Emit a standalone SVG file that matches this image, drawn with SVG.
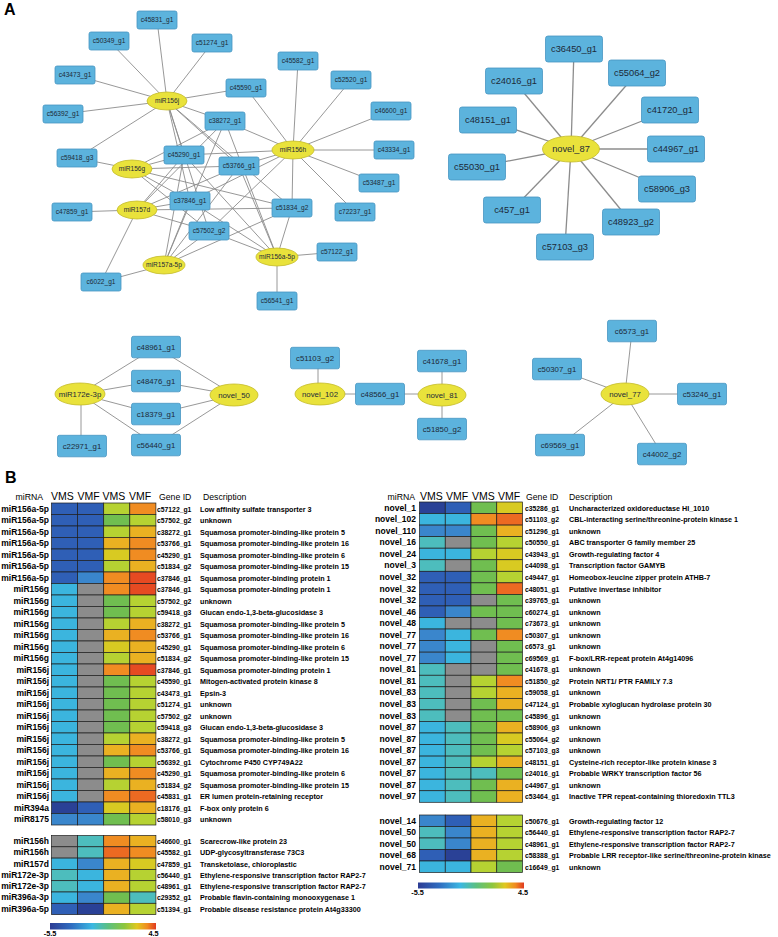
<svg xmlns="http://www.w3.org/2000/svg" width="778" height="937" viewBox="0 0 778 937">
<style>
.bx{fill:#5cb3dd;stroke:#4896c2;stroke-width:0.8}
.mr{fill:#e9e23b;stroke:#c4bb2a;stroke-width:0.8}
.e{stroke:#8c8c8c;stroke-width:0.9}
.e2{stroke:#8c8c8c;stroke-width:1.3}
text{font-family:"Liberation Sans",Arial,sans-serif}
.ts{font-size:6.6px;text-anchor:middle;fill:#1c2a38}
.tl{font-size:9.3px;text-anchor:middle;fill:#1c2a38}
.tm{font-size:7.8px;text-anchor:middle;fill:#1c2a38}
.lab{font-size:16px;font-weight:bold;fill:#000}
.hd{font-size:8.7px;fill:#000}
.hv{font-size:10.5px;fill:#000;text-anchor:middle}
.ml{font-size:8.5px;font-weight:bold;text-anchor:end;fill:#000}
.gi{font-size:6.8px;font-weight:bold;fill:#000}
.ds{font-size:7.2px;font-weight:bold;fill:#000}
.cb{font-size:7.3px;font-weight:bold;fill:#000;text-anchor:middle}
.hm rect{stroke:#1e1e1e;stroke-width:0.7}
.DB{fill:#2a4196}.B{fill:#2f5fb6}.MB{fill:#3a86cc}.LB{fill:#3bb5de}.T{fill:#4dbdbd}
.G{fill:#70be50}.YG{fill:#b6d232}.Y{fill:#d8ca22}.YO{fill:#eab122}.O{fill:#f08c22}
.OR{fill:#ec6a22}.R{fill:#e64a22}.NA{fill:#8c8c8c}
</style>
<defs>
<linearGradient id="cs" x1="0" y1="0" x2="1" y2="0">
<stop offset="0" stop-color="#2c3c94"/><stop offset="0.2" stop-color="#2f6cc0"/><stop offset="0.4" stop-color="#3bb8e2"/><stop offset="0.55" stop-color="#5cc080"/><stop offset="0.7" stop-color="#8cc63e"/><stop offset="0.82" stop-color="#e0c820"/><stop offset="0.92" stop-color="#f08a20"/><stop offset="1" stop-color="#e03a20"/>
</linearGradient>
</defs>
<rect width="778" height="937" fill="#fff"/>
<text class="lab" x="4" y="15">A</text>
<text class="lab" x="5" y="483">B</text>

<g id="connectors">
<line class="e" x1="167" y1="101" x2="157" y2="20"/>
<line class="e" x1="167" y1="101" x2="109" y2="41"/>
<line class="e" x1="167" y1="101" x2="212" y2="43"/>
<line class="e" x1="167" y1="101" x2="75" y2="75"/>
<line class="e" x1="167" y1="101" x2="63" y2="114"/>
<line class="e" x1="167" y1="101" x2="246" y2="88"/>
<line class="e" x1="167" y1="101" x2="77" y2="158"/>
<line class="e" x1="167" y1="101" x2="225" y2="121"/>
<line class="e" x1="167" y1="101" x2="184" y2="155"/>
<line class="e" x1="167" y1="101" x2="239" y2="166"/>
<line class="e" x1="167" y1="101" x2="190" y2="201"/>
<line class="e" x1="167" y1="101" x2="292" y2="208"/>
<line class="e" x1="167" y1="101" x2="209" y2="231"/>
<line class="e" x1="293" y1="150" x2="298" y2="61"/>
<line class="e" x1="293" y1="150" x2="351" y2="80"/>
<line class="e" x1="293" y1="150" x2="391" y2="111"/>
<line class="e" x1="293" y1="150" x2="394" y2="150"/>
<line class="e" x1="293" y1="150" x2="379" y2="183"/>
<line class="e" x1="293" y1="150" x2="355" y2="212"/>
<line class="e" x1="293" y1="150" x2="246" y2="88"/>
<line class="e" x1="293" y1="150" x2="225" y2="121"/>
<line class="e" x1="293" y1="150" x2="184" y2="155"/>
<line class="e" x1="293" y1="150" x2="239" y2="166"/>
<line class="e" x1="293" y1="150" x2="190" y2="201"/>
<line class="e" x1="293" y1="150" x2="292" y2="208"/>
<line class="e" x1="293" y1="150" x2="209" y2="231"/>
<line class="e" x1="132" y1="169" x2="77" y2="158"/>
<line class="e" x1="132" y1="169" x2="225" y2="121"/>
<line class="e" x1="132" y1="169" x2="184" y2="155"/>
<line class="e" x1="132" y1="169" x2="239" y2="166"/>
<line class="e" x1="132" y1="169" x2="190" y2="201"/>
<line class="e" x1="132" y1="169" x2="292" y2="208"/>
<line class="e" x1="132" y1="169" x2="209" y2="231"/>
<line class="e" x1="137" y1="210" x2="72" y2="212"/>
<line class="e" x1="137" y1="210" x2="101" y2="282"/>
<line class="e" x1="137" y1="210" x2="225" y2="121"/>
<line class="e" x1="137" y1="210" x2="184" y2="155"/>
<line class="e" x1="137" y1="210" x2="239" y2="166"/>
<line class="e" x1="137" y1="210" x2="190" y2="201"/>
<line class="e" x1="137" y1="210" x2="292" y2="208"/>
<line class="e" x1="137" y1="210" x2="209" y2="231"/>
<line class="e" x1="164" y1="265" x2="101" y2="282"/>
<line class="e" x1="164" y1="265" x2="225" y2="121"/>
<line class="e" x1="164" y1="265" x2="184" y2="155"/>
<line class="e" x1="164" y1="265" x2="239" y2="166"/>
<line class="e" x1="164" y1="265" x2="190" y2="201"/>
<line class="e" x1="164" y1="265" x2="292" y2="208"/>
<line class="e" x1="164" y1="265" x2="209" y2="231"/>
<line class="e" x1="277" y1="257" x2="337" y2="252"/>
<line class="e" x1="277" y1="257" x2="277" y2="301"/>
<line class="e" x1="277" y1="257" x2="225" y2="121"/>
<line class="e" x1="277" y1="257" x2="184" y2="155"/>
<line class="e" x1="277" y1="257" x2="239" y2="166"/>
<line class="e" x1="277" y1="257" x2="190" y2="201"/>
<line class="e" x1="277" y1="257" x2="292" y2="208"/>
<line class="e" x1="277" y1="257" x2="209" y2="231"/>
<line class="e2" x1="571" y1="149" x2="574" y2="49"/>
<line class="e2" x1="571" y1="149" x2="514" y2="81"/>
<line class="e2" x1="571" y1="149" x2="637" y2="73"/>
<line class="e2" x1="571" y1="149" x2="488" y2="120"/>
<line class="e2" x1="571" y1="149" x2="670" y2="110"/>
<line class="e2" x1="571" y1="149" x2="676" y2="149"/>
<line class="e2" x1="571" y1="149" x2="477" y2="167"/>
<line class="e2" x1="571" y1="149" x2="667" y2="189"/>
<line class="e2" x1="571" y1="149" x2="512" y2="210"/>
<line class="e2" x1="571" y1="149" x2="631" y2="222"/>
<line class="e2" x1="571" y1="149" x2="565" y2="247"/>
<line class="e" x1="80" y1="394" x2="156" y2="347"/>
<line class="e" x1="80" y1="394" x2="156" y2="381"/>
<line class="e" x1="80" y1="394" x2="156" y2="414"/>
<line class="e" x1="80" y1="394" x2="156" y2="445"/>
<line class="e" x1="81" y1="394" x2="81" y2="446"/>
<line class="e" x1="234" y1="395" x2="156" y2="347"/>
<line class="e" x1="234" y1="395" x2="156" y2="381"/>
<line class="e" x1="234" y1="395" x2="156" y2="414"/>
<line class="e" x1="234" y1="395" x2="156" y2="445"/>
<line class="e" x1="318" y1="394" x2="318" y2="358"/>
<line class="e" x1="320" y1="394" x2="442" y2="394"/>
<line class="e" x1="442" y1="395" x2="442" y2="361"/>
<line class="e" x1="442" y1="395" x2="442" y2="429"/>
<line class="e" x1="625" y1="394" x2="632" y2="331"/>
<line class="e" x1="625" y1="394" x2="557" y2="369"/>
<line class="e" x1="625" y1="394" x2="702" y2="394"/>
<line class="e" x1="625" y1="394" x2="560" y2="445"/>
<line class="e" x1="625" y1="394" x2="662" y2="454"/>
</g>

<g id="n_c45831_g1"><rect class="bx" x="137" y="11" width="40" height="18" rx="2"/><text class="ts" x="157" y="22.3">c45831_g1</text></g>
<g id="n_c50349_g1"><rect class="bx" x="89" y="32" width="40" height="18" rx="2"/><text class="ts" x="109" y="43.3">c50349_g1</text></g>
<g id="n_c51274_g1"><rect class="bx" x="192" y="34" width="40" height="18" rx="2"/><text class="ts" x="212" y="45.3">c51274_g1</text></g>
<g id="n_c43473_g1"><rect class="bx" x="55" y="66" width="40" height="18" rx="2"/><text class="ts" x="75" y="77.3">c43473_g1</text></g>
<g id="n_c45582_g1"><rect class="bx" x="278" y="52" width="40" height="18" rx="2"/><text class="ts" x="298" y="63.3">c45582_g1</text></g>
<g id="n_c52520_g1"><rect class="bx" x="331" y="71" width="40" height="18" rx="2"/><text class="ts" x="351" y="82.3">c52520_g1</text></g>
<g id="n_c45590_g1"><rect class="bx" x="226" y="79" width="40" height="18" rx="2"/><text class="ts" x="246" y="90.3">c45590_g1</text></g>
<g id="n_c56392_g1"><rect class="bx" x="43" y="105" width="40" height="18" rx="2"/><text class="ts" x="63" y="116.3">c56392_g1</text></g>
<g id="n_c38272_g1"><rect class="bx" x="205" y="112" width="40" height="18" rx="2"/><text class="ts" x="225" y="123.3">c38272_g1</text></g>
<g id="n_c46600_g1"><rect class="bx" x="371" y="102" width="40" height="18" rx="2"/><text class="ts" x="391" y="113.3">c46600_g1</text></g>
<g id="n_c43334_g1"><rect class="bx" x="374" y="141" width="40" height="18" rx="2"/><text class="ts" x="394" y="152.3">c43334_g1</text></g>
<g id="n_c53487_g1"><rect class="bx" x="359" y="174" width="40" height="18" rx="2"/><text class="ts" x="379" y="185.3">c53487_g1</text></g>
<g id="n_c72237_g1"><rect class="bx" x="335" y="203" width="40" height="18" rx="2"/><text class="ts" x="355" y="214.3">c72237_g1</text></g>
<g id="n_c59418_g3"><rect class="bx" x="57" y="149" width="40" height="18" rx="2"/><text class="ts" x="77" y="160.3">c59418_g3</text></g>
<g id="n_c45290_g1"><rect class="bx" x="164" y="146" width="40" height="18" rx="2"/><text class="ts" x="184" y="157.3">c45290_g1</text></g>
<g id="n_c53766_g1"><rect class="bx" x="219" y="157" width="40" height="18" rx="2"/><text class="ts" x="239" y="168.3">c53766_g1</text></g>
<g id="n_c37846_g1"><rect class="bx" x="170" y="192" width="40" height="18" rx="2"/><text class="ts" x="190" y="203.3">c37846_g1</text></g>
<g id="n_c47859_g1"><rect class="bx" x="52" y="203" width="40" height="18" rx="2"/><text class="ts" x="72" y="214.3">c47859_g1</text></g>
<g id="n_c51834_g2"><rect class="bx" x="272" y="199" width="40" height="18" rx="2"/><text class="ts" x="292" y="210.3">c51834_g2</text></g>
<g id="n_c57502_g2"><rect class="bx" x="189" y="222" width="40" height="18" rx="2"/><text class="ts" x="209" y="233.3">c57502_g2</text></g>
<g id="n_c57122_g1"><rect class="bx" x="317" y="243" width="40" height="18" rx="2"/><text class="ts" x="337" y="254.3">c57122_g1</text></g>
<g id="n_c6022_g1"><rect class="bx" x="81" y="273" width="40" height="18" rx="2"/><text class="ts" x="101" y="284.3">c6022_g1</text></g>
<g id="n_c56541_g1"><rect class="bx" x="257" y="292" width="40" height="18" rx="2"/><text class="ts" x="277" y="303.3">c56541_g1</text></g>
<g id="n_miR156j"><ellipse class="mr" cx="167" cy="101" rx="20" ry="9"/><text class="ts" x="167" y="103.3">miR156j</text></g>
<g id="n_miR156h"><ellipse class="mr" cx="293" cy="150" rx="21" ry="9"/><text class="ts" x="293" y="152.3">miR156h</text></g>
<g id="n_miR156g"><ellipse class="mr" cx="132" cy="169" rx="20" ry="9"/><text class="ts" x="132" y="171.3">miR156g</text></g>
<g id="n_miR157d"><ellipse class="mr" cx="137" cy="210" rx="20" ry="9"/><text class="ts" x="137" y="212.3">miR157d</text></g>
<g id="n_miR157a-5p"><ellipse class="mr" cx="164" cy="265" rx="21" ry="9"/><text class="ts" x="164" y="267.3">miR157a-5p</text></g>
<g id="n_miR156a-5p"><ellipse class="mr" cx="277" cy="257" rx="21" ry="9"/><text class="ts" x="277" y="259.3">miR156a-5p</text></g>

<g id="n_c36450_g1"><rect class="bx" x="545.5" y="36" width="57" height="26" rx="2.5"/><text class="tl" x="574" y="52.2">c36450_g1</text></g>
<g id="n_c24016_g1"><rect class="bx" x="485.5" y="68" width="57" height="26" rx="2.5"/><text class="tl" x="514" y="84.2">c24016_g1</text></g>
<g id="n_c55064_g2"><rect class="bx" x="608.5" y="60" width="57" height="26" rx="2.5"/><text class="tl" x="637" y="76.2">c55064_g2</text></g>
<g id="n_c48151_g1"><rect class="bx" x="459.5" y="107" width="57" height="26" rx="2.5"/><text class="tl" x="488" y="123.2">c48151_g1</text></g>
<g id="n_c41720_g1"><rect class="bx" x="641.5" y="97" width="57" height="26" rx="2.5"/><text class="tl" x="670" y="113.2">c41720_g1</text></g>
<g id="n_c44967_g1"><rect class="bx" x="647.5" y="136" width="57" height="26" rx="2.5"/><text class="tl" x="676" y="152.2">c44967_g1</text></g>
<g id="n_c55030_g1"><rect class="bx" x="448.5" y="154" width="57" height="26" rx="2.5"/><text class="tl" x="477" y="170.2">c55030_g1</text></g>
<g id="n_c58906_g3"><rect class="bx" x="638.5" y="176" width="57" height="26" rx="2.5"/><text class="tl" x="667" y="192.2">c58906_g3</text></g>
<g id="n_c457_g1"><rect class="bx" x="483.5" y="197" width="57" height="26" rx="2.5"/><text class="tl" x="512" y="213.2">c457_g1</text></g>
<g id="n_c48923_g2"><rect class="bx" x="602.5" y="209" width="57" height="26" rx="2.5"/><text class="tl" x="631" y="225.2">c48923_g2</text></g>
<g id="n_c57103_g3"><rect class="bx" x="536.5" y="234" width="57" height="26" rx="2.5"/><text class="tl" x="565" y="250.2">c57103_g3</text></g>
<g id="n_novel_87"><ellipse class="mr" cx="571" cy="149" rx="28.5" ry="13"/><text class="tl" x="571" y="152.2">novel_87</text></g>

<g id="n_c48961_g1"><rect class="bx" x="131.5" y="336.3" width="49" height="21.5" rx="2"/><text class="tm" x="156" y="349.7">c48961_g1</text></g>
<g id="n_c48476_g1"><rect class="bx" x="131.5" y="370.3" width="49" height="21.5" rx="2"/><text class="tm" x="156" y="383.7">c48476_g1</text></g>
<g id="n_c18379_g1"><rect class="bx" x="131.5" y="403.3" width="49" height="21.5" rx="2"/><text class="tm" x="156" y="416.7">c18379_g1</text></g>
<g id="n_c56440_g1"><rect class="bx" x="131.5" y="434.3" width="49" height="21.5" rx="2"/><text class="tm" x="156" y="447.7">c56440_g1</text></g>
<g id="n_c22971_g1"><rect class="bx" x="57.5" y="435.3" width="49" height="21.5" rx="2"/><text class="tm" x="82" y="448.7">c22971_g1</text></g>
<g id="n_miR172e-3p"><ellipse class="mr" cx="80" cy="394" rx="25" ry="11"/><text class="tm" x="80" y="396.7">miR172e-3p</text></g>
<g id="n_novel_50"><ellipse class="mr" cx="234" cy="395" rx="24" ry="11"/><text class="tm" x="234" y="397.7">novel_50</text></g>
<g id="n_c51103_g2"><rect class="bx" x="290.5" y="347.3" width="49" height="21.5" rx="2"/><text class="tm" x="315" y="360.7">c51103_g2</text></g>
<g id="n_novel_102"><ellipse class="mr" cx="320" cy="394" rx="25" ry="11"/><text class="tm" x="320" y="396.7">novel_102</text></g>
<g id="n_c48566_g1"><rect class="bx" x="355.5" y="383.3" width="49" height="21.5" rx="2"/><text class="tm" x="380" y="396.7">c48566_g1</text></g>
<g id="n_novel_81"><ellipse class="mr" cx="442" cy="395" rx="24" ry="11"/><text class="tm" x="442" y="397.7">novel_81</text></g>
<g id="n_c41678_g1"><rect class="bx" x="417.5" y="350.3" width="49" height="21.5" rx="2"/><text class="tm" x="442" y="363.7">c41678_g1</text></g>
<g id="n_c51850_g2"><rect class="bx" x="417.5" y="418.3" width="49" height="21.5" rx="2"/><text class="tm" x="442" y="431.7">c51850_g2</text></g>
<g id="n_c6573_g1"><rect class="bx" x="607.5" y="320.3" width="49" height="21.5" rx="2"/><text class="tm" x="632" y="333.7">c6573_g1</text></g>
<g id="n_c50307_g1"><rect class="bx" x="532.5" y="358.3" width="49" height="21.5" rx="2"/><text class="tm" x="557" y="371.7">c50307_g1</text></g>
<g id="n_c53246_g1"><rect class="bx" x="677.5" y="383.3" width="49" height="21.5" rx="2"/><text class="tm" x="702" y="396.7">c53246_g1</text></g>
<g id="n_c69569_g1"><rect class="bx" x="535.5" y="434.3" width="49" height="21.5" rx="2"/><text class="tm" x="560" y="447.7">c69569_g1</text></g>
<g id="n_c44002_g2"><rect class="bx" x="637.5" y="443.3" width="49" height="21.5" rx="2"/><text class="tm" x="662" y="456.7">c44002_g2</text></g>
<g id="n_novel_77"><ellipse class="mr" cx="625" cy="394" rx="24" ry="11"/><text class="tm" x="625" y="396.7">novel_77</text></g>

<g id="heatmap-left">
<text class="hd" x="43" y="500" text-anchor="end">miRNA</text>
<text class="hv" x="62.5" y="500">VMS</text><text class="hv" x="88.5" y="500">VMF</text><text class="hv" x="114" y="500">VMS</text><text class="hv" x="140" y="500">VMF</text>
<text class="hd" x="159" y="500">Gene ID</text><text class="hd" x="203" y="500">Description</text>
<g class="hm">
<g transform="translate(0,503)"><rect class="B" x="51.5" width="26.1" height="11.5"/><rect class="B" x="77.6" width="26.1" height="11.5"/><rect class="YG" x="103.7" width="26.1" height="11.5"/><rect class="O" x="129.8" width="26.1" height="11.5"/></g>
<g transform="translate(0,514.5)"><rect class="B" x="51.5" width="26.1" height="11.5"/><rect class="B" x="77.6" width="26.1" height="11.5"/><rect class="G" x="103.7" width="26.1" height="11.5"/><rect class="YG" x="129.8" width="26.1" height="11.5"/></g>
<g transform="translate(0,526)"><rect class="B" x="51.5" width="26.1" height="11.5"/><rect class="B" x="77.6" width="26.1" height="11.5"/><rect class="YG" x="103.7" width="26.1" height="11.5"/><rect class="YO" x="129.8" width="26.1" height="11.5"/></g>
<g transform="translate(0,537.5)"><rect class="B" x="51.5" width="26.1" height="11.5"/><rect class="B" x="77.6" width="26.1" height="11.5"/><rect class="YO" x="103.7" width="26.1" height="11.5"/><rect class="O" x="129.8" width="26.1" height="11.5"/></g>
<g transform="translate(0,549)"><rect class="B" x="51.5" width="26.1" height="11.5"/><rect class="B" x="77.6" width="26.1" height="11.5"/><rect class="Y" x="103.7" width="26.1" height="11.5"/><rect class="O" x="129.8" width="26.1" height="11.5"/></g>
<g transform="translate(0,560.5)"><rect class="B" x="51.5" width="26.1" height="11.5"/><rect class="B" x="77.6" width="26.1" height="11.5"/><rect class="YG" x="103.7" width="26.1" height="11.5"/><rect class="YO" x="129.8" width="26.1" height="11.5"/></g>
<g transform="translate(0,572)"><rect class="B" x="51.5" width="26.1" height="11.5"/><rect class="MB" x="77.6" width="26.1" height="11.5"/><rect class="O" x="103.7" width="26.1" height="11.5"/><rect class="R" x="129.8" width="26.1" height="11.5"/></g>
<g transform="translate(0,583.5)"><rect class="LB" x="51.5" width="26.1" height="11.5"/><rect class="NA" x="77.6" width="26.1" height="11.5"/><rect class="O" x="103.7" width="26.1" height="11.5"/><rect class="R" x="129.8" width="26.1" height="11.5"/></g>
<g transform="translate(0,595)"><rect class="LB" x="51.5" width="26.1" height="11.5"/><rect class="NA" x="77.6" width="26.1" height="11.5"/><rect class="G" x="103.7" width="26.1" height="11.5"/><rect class="YG" x="129.8" width="26.1" height="11.5"/></g>
<g transform="translate(0,606.5)"><rect class="LB" x="51.5" width="26.1" height="11.5"/><rect class="NA" x="77.6" width="26.1" height="11.5"/><rect class="G" x="103.7" width="26.1" height="11.5"/><rect class="YG" x="129.8" width="26.1" height="11.5"/></g>
<g transform="translate(0,618)"><rect class="LB" x="51.5" width="26.1" height="11.5"/><rect class="NA" x="77.6" width="26.1" height="11.5"/><rect class="YG" x="103.7" width="26.1" height="11.5"/><rect class="YO" x="129.8" width="26.1" height="11.5"/></g>
<g transform="translate(0,629.5)"><rect class="LB" x="51.5" width="26.1" height="11.5"/><rect class="NA" x="77.6" width="26.1" height="11.5"/><rect class="YO" x="103.7" width="26.1" height="11.5"/><rect class="O" x="129.8" width="26.1" height="11.5"/></g>
<g transform="translate(0,641)"><rect class="LB" x="51.5" width="26.1" height="11.5"/><rect class="NA" x="77.6" width="26.1" height="11.5"/><rect class="Y" x="103.7" width="26.1" height="11.5"/><rect class="YO" x="129.8" width="26.1" height="11.5"/></g>
<g transform="translate(0,652.5)"><rect class="LB" x="51.5" width="26.1" height="11.5"/><rect class="NA" x="77.6" width="26.1" height="11.5"/><rect class="YG" x="103.7" width="26.1" height="11.5"/><rect class="YO" x="129.8" width="26.1" height="11.5"/></g>
<g transform="translate(0,664)"><rect class="LB" x="51.5" width="26.1" height="11.5"/><rect class="NA" x="77.6" width="26.1" height="11.5"/><rect class="O" x="103.7" width="26.1" height="11.5"/><rect class="R" x="129.8" width="26.1" height="11.5"/></g>
<g transform="translate(0,675.5)"><rect class="LB" x="51.5" width="26.1" height="11.5"/><rect class="NA" x="77.6" width="26.1" height="11.5"/><rect class="G" x="103.7" width="26.1" height="11.5"/><rect class="YG" x="129.8" width="26.1" height="11.5"/></g>
<g transform="translate(0,687)"><rect class="LB" x="51.5" width="26.1" height="11.5"/><rect class="NA" x="77.6" width="26.1" height="11.5"/><rect class="G" x="103.7" width="26.1" height="11.5"/><rect class="YG" x="129.8" width="26.1" height="11.5"/></g>
<g transform="translate(0,698.5)"><rect class="LB" x="51.5" width="26.1" height="11.5"/><rect class="NA" x="77.6" width="26.1" height="11.5"/><rect class="G" x="103.7" width="26.1" height="11.5"/><rect class="YG" x="129.8" width="26.1" height="11.5"/></g>
<g transform="translate(0,710)"><rect class="LB" x="51.5" width="26.1" height="11.5"/><rect class="NA" x="77.6" width="26.1" height="11.5"/><rect class="G" x="103.7" width="26.1" height="11.5"/><rect class="YG" x="129.8" width="26.1" height="11.5"/></g>
<g transform="translate(0,721.5)"><rect class="LB" x="51.5" width="26.1" height="11.5"/><rect class="NA" x="77.6" width="26.1" height="11.5"/><rect class="G" x="103.7" width="26.1" height="11.5"/><rect class="YG" x="129.8" width="26.1" height="11.5"/></g>
<g transform="translate(0,733)"><rect class="LB" x="51.5" width="26.1" height="11.5"/><rect class="NA" x="77.6" width="26.1" height="11.5"/><rect class="YG" x="103.7" width="26.1" height="11.5"/><rect class="YO" x="129.8" width="26.1" height="11.5"/></g>
<g transform="translate(0,744.5)"><rect class="LB" x="51.5" width="26.1" height="11.5"/><rect class="NA" x="77.6" width="26.1" height="11.5"/><rect class="YO" x="103.7" width="26.1" height="11.5"/><rect class="O" x="129.8" width="26.1" height="11.5"/></g>
<g transform="translate(0,756)"><rect class="LB" x="51.5" width="26.1" height="11.5"/><rect class="NA" x="77.6" width="26.1" height="11.5"/><rect class="G" x="103.7" width="26.1" height="11.5"/><rect class="YG" x="129.8" width="26.1" height="11.5"/></g>
<g transform="translate(0,767.5)"><rect class="LB" x="51.5" width="26.1" height="11.5"/><rect class="NA" x="77.6" width="26.1" height="11.5"/><rect class="YO" x="103.7" width="26.1" height="11.5"/><rect class="O" x="129.8" width="26.1" height="11.5"/></g>
<g transform="translate(0,779)"><rect class="LB" x="51.5" width="26.1" height="11.5"/><rect class="NA" x="77.6" width="26.1" height="11.5"/><rect class="YG" x="103.7" width="26.1" height="11.5"/><rect class="YO" x="129.8" width="26.1" height="11.5"/></g>
<g transform="translate(0,790.5)"><rect class="LB" x="51.5" width="26.1" height="11.5"/><rect class="NA" x="77.6" width="26.1" height="11.5"/><rect class="O" x="103.7" width="26.1" height="11.5"/><rect class="OR" x="129.8" width="26.1" height="11.5"/></g>
<g transform="translate(0,802)"><rect class="DB" x="51.5" width="26.1" height="11.5"/><rect class="B" x="77.6" width="26.1" height="11.5"/><rect class="Y" x="103.7" width="26.1" height="11.5"/><rect class="YO" x="129.8" width="26.1" height="11.5"/></g>
<g transform="translate(0,813.5)"><rect class="MB" x="51.5" width="26.1" height="11.5"/><rect class="MB" x="77.6" width="26.1" height="11.5"/><rect class="G" x="103.7" width="26.1" height="11.5"/><rect class="YG" x="129.8" width="26.1" height="11.5"/></g>
<g transform="translate(0,835.5)"><rect class="NA" x="51.5" width="26.1" height="11.3"/><rect class="T" x="77.6" width="26.1" height="11.3"/><rect class="O" x="103.7" width="26.1" height="11.3"/><rect class="YO" x="129.8" width="26.1" height="11.3"/></g>
<g transform="translate(0,846.8)"><rect class="NA" x="51.5" width="26.1" height="11.3"/><rect class="T" x="77.6" width="26.1" height="11.3"/><rect class="OR" x="103.7" width="26.1" height="11.3"/><rect class="O" x="129.8" width="26.1" height="11.3"/></g>
<g transform="translate(0,858.1)"><rect class="LB" x="51.5" width="26.1" height="11.3"/><rect class="MB" x="77.6" width="26.1" height="11.3"/><rect class="YO" x="103.7" width="26.1" height="11.3"/><rect class="Y" x="129.8" width="26.1" height="11.3"/></g>
<g transform="translate(0,869.4)"><rect class="T" x="51.5" width="26.1" height="11.3"/><rect class="LB" x="77.6" width="26.1" height="11.3"/><rect class="YO" x="103.7" width="26.1" height="11.3"/><rect class="YG" x="129.8" width="26.1" height="11.3"/></g>
<g transform="translate(0,880.7)"><rect class="T" x="51.5" width="26.1" height="11.3"/><rect class="LB" x="77.6" width="26.1" height="11.3"/><rect class="YO" x="103.7" width="26.1" height="11.3"/><rect class="YG" x="129.8" width="26.1" height="11.3"/></g>
<g transform="translate(0,892)"><rect class="LB" x="51.5" width="26.1" height="11.3"/><rect class="MB" x="77.6" width="26.1" height="11.3"/><rect class="G" x="103.7" width="26.1" height="11.3"/><rect class="T" x="129.8" width="26.1" height="11.3"/></g>
<g transform="translate(0,903.3)"><rect class="B" x="51.5" width="26.1" height="11.3"/><rect class="DB" x="77.6" width="26.1" height="11.3"/><rect class="YO" x="103.7" width="26.1" height="11.3"/><rect class="YG" x="129.8" width="26.1" height="11.3"/></g>
</g>
<g>
<text class="ml" x="49" y="511.5">miR156a-5p</text><text class="gi" x="157" y="511.5">c57122_g1</text><text class="ds" x="200" y="511.5">Low affinity sulfate transporter 3</text>
<text class="ml" x="49" y="523">miR156a-5p</text><text class="gi" x="157" y="523">c57502_g2</text><text class="ds" x="200" y="523">unknown</text>
<text class="ml" x="49" y="534.5">miR156a-5p</text><text class="gi" x="157" y="534.5">c38272_g1</text><text class="ds" x="200" y="534.5">Squamosa promoter-binding-like protein 5</text>
<text class="ml" x="49" y="546">miR156a-5p</text><text class="gi" x="157" y="546">c53766_g1</text><text class="ds" x="200" y="546">Squamosa promoter-binding-like protein 16</text>
<text class="ml" x="49" y="557.5">miR156a-5p</text><text class="gi" x="157" y="557.5">c45290_g1</text><text class="ds" x="200" y="557.5">Squamosa promoter-binding-like protein 6</text>
<text class="ml" x="49" y="569">miR156a-5p</text><text class="gi" x="157" y="569">c51834_g2</text><text class="ds" x="200" y="569">Squamosa promoter-binding-like protein 15</text>
<text class="ml" x="49" y="580.5">miR156a-5p</text><text class="gi" x="157" y="580.5">c37846_g1</text><text class="ds" x="200" y="580.5">Squamosa promoter-binding protein 1</text>
<text class="ml" x="49" y="592">miR156g</text><text class="gi" x="157" y="592">c37846_g1</text><text class="ds" x="200" y="592">Squamosa promoter-binding protein 1</text>
<text class="ml" x="49" y="603.5">miR156g</text><text class="gi" x="157" y="603.5">c57502_g2</text><text class="ds" x="200" y="603.5">unknown</text>
<text class="ml" x="49" y="615">miR156g</text><text class="gi" x="157" y="615">c59418_g3</text><text class="ds" x="200" y="615">Glucan endo-1,3-beta-glucosidase 3</text>
<text class="ml" x="49" y="626.5">miR156g</text><text class="gi" x="157" y="626.5">c38272_g1</text><text class="ds" x="200" y="626.5">Squamosa promoter-binding-like protein 5</text>
<text class="ml" x="49" y="638">miR156g</text><text class="gi" x="157" y="638">c53766_g1</text><text class="ds" x="200" y="638">Squamosa promoter-binding-like protein 16</text>
<text class="ml" x="49" y="649.5">miR156g</text><text class="gi" x="157" y="649.5">c45290_g1</text><text class="ds" x="200" y="649.5">Squamosa promoter-binding-like protein 6</text>
<text class="ml" x="49" y="661">miR156g</text><text class="gi" x="157" y="661">c51834_g2</text><text class="ds" x="200" y="661">Squamosa promoter-binding-like protein 15</text>
<text class="ml" x="49" y="672.5">miR156j</text><text class="gi" x="157" y="672.5">c37846_g1</text><text class="ds" x="200" y="672.5">Squamosa promoter-binding protein 1</text>
<text class="ml" x="49" y="684">miR156j</text><text class="gi" x="157" y="684">c45590_g1</text><text class="ds" x="200" y="684">Mitogen-activated protein kinase 8</text>
<text class="ml" x="49" y="695.5">miR156j</text><text class="gi" x="157" y="695.5">c43473_g1</text><text class="ds" x="200" y="695.5">Epsin-3</text>
<text class="ml" x="49" y="707">miR156j</text><text class="gi" x="157" y="707">c51274_g1</text><text class="ds" x="200" y="707">unknown</text>
<text class="ml" x="49" y="718.5">miR156j</text><text class="gi" x="157" y="718.5">c57502_g2</text><text class="ds" x="200" y="718.5">unknown</text>
<text class="ml" x="49" y="730">miR156j</text><text class="gi" x="157" y="730">c59418_g3</text><text class="ds" x="200" y="730">Glucan endo-1,3-beta-glucosidase 3</text>
<text class="ml" x="49" y="741.5">miR156j</text><text class="gi" x="157" y="741.5">c38272_g1</text><text class="ds" x="200" y="741.5">Squamosa promoter-binding-like protein 5</text>
<text class="ml" x="49" y="753">miR156j</text><text class="gi" x="157" y="753">c53766_g1</text><text class="ds" x="200" y="753">Squamosa promoter-binding-like protein 16</text>
<text class="ml" x="49" y="764.5">miR156j</text><text class="gi" x="157" y="764.5">c56392_g1</text><text class="ds" x="200" y="764.5">Cytochrome P450 CYP749A22</text>
<text class="ml" x="49" y="776">miR156j</text><text class="gi" x="157" y="776">c45290_g1</text><text class="ds" x="200" y="776">Squamosa promoter-binding-like protein 6</text>
<text class="ml" x="49" y="787.5">miR156j</text><text class="gi" x="157" y="787.5">c51834_g2</text><text class="ds" x="200" y="787.5">Squamosa promoter-binding-like protein 15</text>
<text class="ml" x="49" y="799">miR156j</text><text class="gi" x="157" y="799">c45831_g1</text><text class="ds" x="200" y="799">ER lumen protein-retaining receptor</text>
<text class="ml" x="49" y="810.5">miR394a</text><text class="gi" x="157" y="810.5">c18176_g1</text><text class="ds" x="200" y="810.5">F-box only protein 6</text>
<text class="ml" x="49" y="822">miR8175</text><text class="gi" x="157" y="822">c58010_g3</text><text class="ds" x="200" y="822">unknown</text>
<text class="ml" x="49" y="843.9">miR156h</text><text class="gi" x="157" y="843.9">c46600_g1</text><text class="ds" x="200" y="843.9">Scarecrow-like protein 23</text>
<text class="ml" x="49" y="855.2">miR156h</text><text class="gi" x="157" y="855.2">c45582_g1</text><text class="ds" x="200" y="855.2">UDP-glycosyltransferase 73C3</text>
<text class="ml" x="49" y="866.5">miR157d</text><text class="gi" x="157" y="866.5">c47859_g1</text><text class="ds" x="200" y="866.5">Transketolase, chloroplastic</text>
<text class="ml" x="49" y="877.8">miR172e-3p</text><text class="gi" x="157" y="877.8">c56440_g1</text><text class="ds" x="200" y="877.8">Ethylene-responsive transcription factor RAP2-7</text>
<text class="ml" x="49" y="889.1">miR172e-3p</text><text class="gi" x="157" y="889.1">c48961_g1</text><text class="ds" x="200" y="889.1">Ethylene-responsive transcription factor RAP2-7</text>
<text class="ml" x="49" y="900.4">miR396a-3p</text><text class="gi" x="157" y="900.4">c29352_g1</text><text class="ds" x="200" y="900.4">Probable flavin-containing monooxygenase 1</text>
<text class="ml" x="49" y="911.7">miR396a-5p</text><text class="gi" x="157" y="911.7">c51394_g1</text><text class="ds" x="200" y="911.7">Probable disease resistance protein At4g33300</text>
</g>
<rect x="50" y="923" width="106" height="6.5" fill="url(#cs)"/>
<text class="cb" x="50" y="935.5">-5.5</text><text class="cb" x="153.5" y="935.5">4.5</text>
</g>

<g id="heatmap-right">
<text class="hd" x="415" y="500" text-anchor="end">miRNA</text>
<text class="hv" x="431.5" y="500">VMS</text><text class="hv" x="457" y="500">VMF</text><text class="hv" x="483.5" y="500">VMS</text><text class="hv" x="509" y="500">VMF</text>
<text class="hd" x="526" y="500">Gene ID</text><text class="hd" x="569" y="500">Description</text>
<g class="hm">
<g transform="translate(0,502)"><rect class="DB" x="419.5" width="25.75" height="11.55"/><rect class="B" x="445.25" width="25.75" height="11.55"/><rect class="G" x="471" width="25.75" height="11.55"/><rect class="Y" x="496.75" width="25.75" height="11.55"/></g>
<g transform="translate(0,513.55)"><rect class="LB" x="419.5" width="25.75" height="11.55"/><rect class="LB" x="445.25" width="25.75" height="11.55"/><rect class="O" x="471" width="25.75" height="11.55"/><rect class="OR" x="496.75" width="25.75" height="11.55"/></g>
<g transform="translate(0,525.1)"><rect class="MB" x="419.5" width="25.75" height="11.55"/><rect class="MB" x="445.25" width="25.75" height="11.55"/><rect class="G" x="471" width="25.75" height="11.55"/><rect class="YO" x="496.75" width="25.75" height="11.55"/></g>
<g transform="translate(0,536.65)"><rect class="T" x="419.5" width="25.75" height="11.55"/><rect class="NA" x="445.25" width="25.75" height="11.55"/><rect class="G" x="471" width="25.75" height="11.55"/><rect class="YG" x="496.75" width="25.75" height="11.55"/></g>
<g transform="translate(0,548.2)"><rect class="LB" x="419.5" width="25.75" height="11.55"/><rect class="LB" x="445.25" width="25.75" height="11.55"/><rect class="YG" x="471" width="25.75" height="11.55"/><rect class="Y" x="496.75" width="25.75" height="11.55"/></g>
<g transform="translate(0,559.75)"><rect class="T" x="419.5" width="25.75" height="11.55"/><rect class="NA" x="445.25" width="25.75" height="11.55"/><rect class="G" x="471" width="25.75" height="11.55"/><rect class="Y" x="496.75" width="25.75" height="11.55"/></g>
<g transform="translate(0,571.3)"><rect class="B" x="419.5" width="25.75" height="11.55"/><rect class="B" x="445.25" width="25.75" height="11.55"/><rect class="G" x="471" width="25.75" height="11.55"/><rect class="YG" x="496.75" width="25.75" height="11.55"/></g>
<g transform="translate(0,582.85)"><rect class="B" x="419.5" width="25.75" height="11.55"/><rect class="B" x="445.25" width="25.75" height="11.55"/><rect class="G" x="471" width="25.75" height="11.55"/><rect class="OR" x="496.75" width="25.75" height="11.55"/></g>
<g transform="translate(0,594.4)"><rect class="B" x="419.5" width="25.75" height="11.55"/><rect class="B" x="445.25" width="25.75" height="11.55"/><rect class="NA" x="471" width="25.75" height="11.55"/><rect class="G" x="496.75" width="25.75" height="11.55"/></g>
<g transform="translate(0,605.95)"><rect class="B" x="419.5" width="25.75" height="11.55"/><rect class="MB" x="445.25" width="25.75" height="11.55"/><rect class="G" x="471" width="25.75" height="11.55"/><rect class="G" x="496.75" width="25.75" height="11.55"/></g>
<g transform="translate(0,617.5)"><rect class="LB" x="419.5" width="25.75" height="11.55"/><rect class="NA" x="445.25" width="25.75" height="11.55"/><rect class="NA" x="471" width="25.75" height="11.55"/><rect class="G" x="496.75" width="25.75" height="11.55"/></g>
<g transform="translate(0,629.05)"><rect class="MB" x="419.5" width="25.75" height="11.55"/><rect class="LB" x="445.25" width="25.75" height="11.55"/><rect class="G" x="471" width="25.75" height="11.55"/><rect class="O" x="496.75" width="25.75" height="11.55"/></g>
<g transform="translate(0,640.6)"><rect class="MB" x="419.5" width="25.75" height="11.55"/><rect class="LB" x="445.25" width="25.75" height="11.55"/><rect class="NA" x="471" width="25.75" height="11.55"/><rect class="G" x="496.75" width="25.75" height="11.55"/></g>
<g transform="translate(0,652.15)"><rect class="MB" x="419.5" width="25.75" height="11.55"/><rect class="LB" x="445.25" width="25.75" height="11.55"/><rect class="NA" x="471" width="25.75" height="11.55"/><rect class="G" x="496.75" width="25.75" height="11.55"/></g>
<g transform="translate(0,663.7)"><rect class="T" x="419.5" width="25.75" height="11.55"/><rect class="NA" x="445.25" width="25.75" height="11.55"/><rect class="NA" x="471" width="25.75" height="11.55"/><rect class="G" x="496.75" width="25.75" height="11.55"/></g>
<g transform="translate(0,675.25)"><rect class="T" x="419.5" width="25.75" height="11.55"/><rect class="NA" x="445.25" width="25.75" height="11.55"/><rect class="YG" x="471" width="25.75" height="11.55"/><rect class="O" x="496.75" width="25.75" height="11.55"/></g>
<g transform="translate(0,686.8)"><rect class="T" x="419.5" width="25.75" height="11.55"/><rect class="NA" x="445.25" width="25.75" height="11.55"/><rect class="YG" x="471" width="25.75" height="11.55"/><rect class="YO" x="496.75" width="25.75" height="11.55"/></g>
<g transform="translate(0,698.35)"><rect class="T" x="419.5" width="25.75" height="11.55"/><rect class="NA" x="445.25" width="25.75" height="11.55"/><rect class="G" x="471" width="25.75" height="11.55"/><rect class="YO" x="496.75" width="25.75" height="11.55"/></g>
<g transform="translate(0,709.9)"><rect class="T" x="419.5" width="25.75" height="11.55"/><rect class="NA" x="445.25" width="25.75" height="11.55"/><rect class="G" x="471" width="25.75" height="11.55"/><rect class="G" x="496.75" width="25.75" height="11.55"/></g>
<g transform="translate(0,721.45)"><rect class="LB" x="419.5" width="25.75" height="11.55"/><rect class="T" x="445.25" width="25.75" height="11.55"/><rect class="G" x="471" width="25.75" height="11.55"/><rect class="YO" x="496.75" width="25.75" height="11.55"/></g>
<g transform="translate(0,733)"><rect class="LB" x="419.5" width="25.75" height="11.55"/><rect class="T" x="445.25" width="25.75" height="11.55"/><rect class="G" x="471" width="25.75" height="11.55"/><rect class="Y" x="496.75" width="25.75" height="11.55"/></g>
<g transform="translate(0,744.55)"><rect class="LB" x="419.5" width="25.75" height="11.55"/><rect class="T" x="445.25" width="25.75" height="11.55"/><rect class="G" x="471" width="25.75" height="11.55"/><rect class="YG" x="496.75" width="25.75" height="11.55"/></g>
<g transform="translate(0,756.1)"><rect class="LB" x="419.5" width="25.75" height="11.55"/><rect class="T" x="445.25" width="25.75" height="11.55"/><rect class="YG" x="471" width="25.75" height="11.55"/><rect class="YO" x="496.75" width="25.75" height="11.55"/></g>
<g transform="translate(0,767.65)"><rect class="LB" x="419.5" width="25.75" height="11.55"/><rect class="T" x="445.25" width="25.75" height="11.55"/><rect class="T" x="471" width="25.75" height="11.55"/><rect class="G" x="496.75" width="25.75" height="11.55"/></g>
<g transform="translate(0,779.2)"><rect class="LB" x="419.5" width="25.75" height="11.55"/><rect class="T" x="445.25" width="25.75" height="11.55"/><rect class="G" x="471" width="25.75" height="11.55"/><rect class="YO" x="496.75" width="25.75" height="11.55"/></g>
<g transform="translate(0,790.75)"><rect class="LB" x="419.5" width="25.75" height="11.55"/><rect class="T" x="445.25" width="25.75" height="11.55"/><rect class="G" x="471" width="25.75" height="11.55"/><rect class="YO" x="496.75" width="25.75" height="11.55"/></g>
<g transform="translate(0,815)"><rect class="MB" x="419.5" width="25.75" height="11.5"/><rect class="B" x="445.25" width="25.75" height="11.5"/><rect class="YO" x="471" width="25.75" height="11.5"/><rect class="YG" x="496.75" width="25.75" height="11.5"/></g>
<g transform="translate(0,826.5)"><rect class="T" x="419.5" width="25.75" height="11.5"/><rect class="MB" x="445.25" width="25.75" height="11.5"/><rect class="YO" x="471" width="25.75" height="11.5"/><rect class="YG" x="496.75" width="25.75" height="11.5"/></g>
<g transform="translate(0,838)"><rect class="T" x="419.5" width="25.75" height="11.5"/><rect class="MB" x="445.25" width="25.75" height="11.5"/><rect class="YO" x="471" width="25.75" height="11.5"/><rect class="YG" x="496.75" width="25.75" height="11.5"/></g>
<g transform="translate(0,849.5)"><rect class="B" x="419.5" width="25.75" height="11.5"/><rect class="DB" x="445.25" width="25.75" height="11.5"/><rect class="YO" x="471" width="25.75" height="11.5"/><rect class="YG" x="496.75" width="25.75" height="11.5"/></g>
<g transform="translate(0,861)"><rect class="LB" x="419.5" width="25.75" height="11.5"/><rect class="LB" x="445.25" width="25.75" height="11.5"/><rect class="YG" x="471" width="25.75" height="11.5"/><rect class="G" x="496.75" width="25.75" height="11.5"/></g>
</g>
<g>
<text class="ml" x="416" y="510.6">novel_1</text><text class="gi" x="525" y="510.6">c35286_g1</text><text class="ds" x="569" y="510.6">Uncharacterized oxidoreductase HI_1010</text>
<text class="ml" x="416" y="522.2">novel_102</text><text class="gi" x="525" y="522.2">c51103_g2</text><text class="ds" x="569" y="522.2">CBL-interacting serine/threonine-protein kinase 1</text>
<text class="ml" x="416" y="533.7">novel_110</text><text class="gi" x="525" y="533.7">c51296_g1</text><text class="ds" x="569" y="533.7">unknown</text>
<text class="ml" x="416" y="545.3">novel_16</text><text class="gi" x="525" y="545.3">c50550_g1</text><text class="ds" x="569" y="545.3">ABC transporter G family member 25</text>
<text class="ml" x="416" y="556.8">novel_24</text><text class="gi" x="525" y="556.8">c43943_g1</text><text class="ds" x="569" y="556.8">Growth-regulating factor 4</text>
<text class="ml" x="416" y="568.4">novel_3</text><text class="gi" x="525" y="568.4">c44098_g1</text><text class="ds" x="569" y="568.4">Transcription factor GAMYB</text>
<text class="ml" x="416" y="579.9">novel_32</text><text class="gi" x="525" y="579.9">c49447_g1</text><text class="ds" x="569" y="579.9">Homeobox-leucine zipper protein ATHB-7</text>
<text class="ml" x="416" y="591.5">novel_32</text><text class="gi" x="525" y="591.5">c48051_g1</text><text class="ds" x="569" y="591.5">Putative invertase inhibitor</text>
<text class="ml" x="416" y="603">novel_32</text><text class="gi" x="525" y="603">c39765_g1</text><text class="ds" x="569" y="603">unknown</text>
<text class="ml" x="416" y="614.6">novel_46</text><text class="gi" x="525" y="614.6">c60274_g1</text><text class="ds" x="569" y="614.6">unknown</text>
<text class="ml" x="416" y="626.1">novel_48</text><text class="gi" x="525" y="626.1">c73673_g1</text><text class="ds" x="569" y="626.1">unknown</text>
<text class="ml" x="416" y="637.7">novel_77</text><text class="gi" x="525" y="637.7">c50307_g1</text><text class="ds" x="569" y="637.7">unknown</text>
<text class="ml" x="416" y="649.2">novel_77</text><text class="gi" x="525" y="649.2">c6573_g1</text><text class="ds" x="569" y="649.2">unknown</text>
<text class="ml" x="416" y="660.8">novel_77</text><text class="gi" x="525" y="660.8">c69569_g1</text><text class="ds" x="569" y="660.8">F-box/LRR-repeat protein At4g14096</text>
<text class="ml" x="416" y="672.3">novel_81</text><text class="gi" x="525" y="672.3">c41678_g1</text><text class="ds" x="569" y="672.3">unknown</text>
<text class="ml" x="416" y="683.9">novel_81</text><text class="gi" x="525" y="683.9">c51850_g2</text><text class="ds" x="569" y="683.9">Protein NRT1/ PTR FAMILY 7.3</text>
<text class="ml" x="416" y="695.4">novel_83</text><text class="gi" x="525" y="695.4">c59058_g1</text><text class="ds" x="569" y="695.4">unknown</text>
<text class="ml" x="416" y="707">novel_83</text><text class="gi" x="525" y="707">c47124_g1</text><text class="ds" x="569" y="707">Probable xyloglucan hydrolase protein 30</text>
<text class="ml" x="416" y="718.5">novel_83</text><text class="gi" x="525" y="718.5">c45896_g1</text><text class="ds" x="569" y="718.5">unknown</text>
<text class="ml" x="416" y="730.1">novel_87</text><text class="gi" x="525" y="730.1">c58906_g3</text><text class="ds" x="569" y="730.1">unknown</text>
<text class="ml" x="416" y="741.6">novel_87</text><text class="gi" x="525" y="741.6">c55064_g2</text><text class="ds" x="569" y="741.6">unknown</text>
<text class="ml" x="416" y="753.2">novel_87</text><text class="gi" x="525" y="753.2">c57103_g3</text><text class="ds" x="569" y="753.2">unknown</text>
<text class="ml" x="416" y="764.7">novel_87</text><text class="gi" x="525" y="764.7">c48151_g1</text><text class="ds" x="569" y="764.7">Cysteine-rich receptor-like protein kinase 3</text>
<text class="ml" x="416" y="776.3">novel_87</text><text class="gi" x="525" y="776.3">c24016_g1</text><text class="ds" x="569" y="776.3">Probable WRKY transcription factor 56</text>
<text class="ml" x="416" y="787.8">novel_87</text><text class="gi" x="525" y="787.8">c44967_g1</text><text class="ds" x="569" y="787.8">unknown</text>
<text class="ml" x="416" y="799.4">novel_97</text><text class="gi" x="525" y="799.4">c53464_g1</text><text class="ds" x="569" y="799.4">Inactive TPR repeat-containing thioredoxin TTL3</text>
<text class="ml" x="416" y="823.5">novel_14</text><text class="gi" x="525" y="823.5">c50676_g1</text><text class="ds" x="569" y="823.5">Growth-regulating factor 12</text>
<text class="ml" x="416" y="835">novel_50</text><text class="gi" x="525" y="835">c56440_g1</text><text class="ds" x="569" y="835">Ethylene-responsive transcription factor RAP2-7</text>
<text class="ml" x="416" y="846.5">novel_50</text><text class="gi" x="525" y="846.5">c48961_g1</text><text class="ds" x="569" y="846.5">Ethylene-responsive transcription factor RAP2-7</text>
<text class="ml" x="416" y="858">novel_68</text><text class="gi" x="525" y="858">c58388_g1</text><text class="ds" x="569" y="858">Probable LRR receptor-like serine/threonine-protein kinase</text>
<text class="ml" x="416" y="869.5">novel_71</text><text class="gi" x="525" y="869.5">c16649_g1</text><text class="ds" x="569" y="869.5">unknown</text>
</g>
<rect x="418" y="882.5" width="106" height="6" fill="url(#cs)"/>
<text class="cb" x="417.5" y="894.5">-5.5</text><text class="cb" x="523" y="894.5">4.5</text>
</g>
</svg>
